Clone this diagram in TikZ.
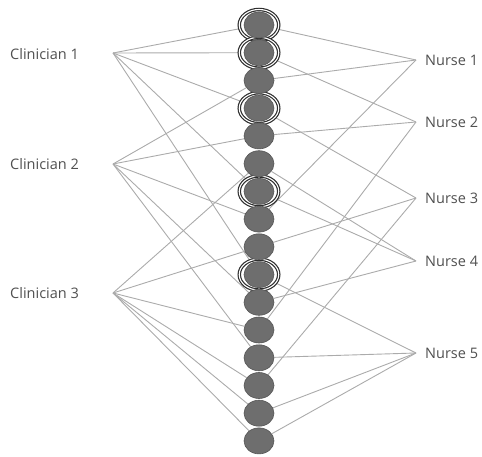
\documentclass[tikz,border=0pt]{standalone}
\usepackage{fontspec}
\setmainfont{Open Sans}
\usetikzlibrary{shapes.geometric,backgrounds}
\definecolor{dotfill}{HTML}{6E6E6E}
\definecolor{dotline}{HTML}{555555}
\definecolor{ringline}{HTML}{2E2E2E}
\definecolor{edgecol}{HTML}{ABABAB}
\definecolor{txtcol}{HTML}{505050}
\begin{document}
\begin{tikzpicture}[x=1pt,y=-1pt,
  dot/.style={ellipse,minimum width=30pt,minimum height=26pt,inner sep=0pt,fill=dotfill,draw=dotline,line width=0.6pt},
  ringc/.style={ellipse,minimum width=39.5pt,minimum height=31pt,inner sep=0pt,draw=ringline,double=white,line width=1.2pt,double distance=1.1pt},
  lab/.style={anchor=west,inner sep=0pt,text=txtcol,font=\fontsize{14.5}{17}\selectfont},
  edge/.style={draw=edgecol,line width=0.9pt}]
\useasboundingbox (0,0) rectangle (482,457);
% rings (circles tied to Clinician 1)
\node[ringc] (t1) at (259,25.0) {};
\node[ringc] (t2) at (259,52.7) {};
\node[ringc] (t4) at (259,108.2) {};
\node[ringc] (t7) at (259,191.4) {};
\node[ringc] (t10) at (259,274.6) {};
% dots
\node[dot] (c1) at (259,25.0) {};
\node[dot] (c2) at (259,52.7) {};
\node[dot,alias=t3] (c3) at (259,80.5) {};
\node[dot] (c4) at (259,108.2) {};
\node[dot,alias=t5] (c5) at (259,135.9) {};
\node[dot,alias=t6] (c6) at (259,163.7) {};
\node[dot] (c7) at (259,191.4) {};
\node[dot,alias=t8] (c8) at (259,219.1) {};
\node[dot,alias=t9] (c9) at (259,246.8) {};
\node[dot] (c10) at (259,274.6) {};
\node[dot,alias=t11] (c11) at (259,302.3) {};
\node[dot,alias=t12] (c12) at (259,330.0) {};
\node[dot,alias=t13] (c13) at (259,357.8) {};
\node[dot,alias=t14] (c14) at (259,385.5) {};
\node[dot,alias=t15] (c15) at (259,413.2) {};
\node[dot,alias=t16] (c16) at (259,440.9) {};
% labels
\node[lab] (cl1) at (10,54) {Clinician 1};
\node[lab] (cl2) at (10,164) {Clinician 2};
\node[lab] (cl3) at (10,293) {Clinician 3};
\node[lab] (nu1) at (425,60) {Nurse 1};
\node[lab] (nu2) at (425,122) {Nurse 2};
\node[lab] (nu3) at (425,198) {Nurse 3};
\node[lab] (nu4) at (425,261) {Nurse 4};
\node[lab] (nu5) at (425,353) {Nurse 5};
% convergence points
\coordinate (a1) at (113,53);
\coordinate (a2) at (113,164);
\coordinate (a3) at (113,293);
\coordinate (b1) at (416,60);
\coordinate (b2) at (416,122);
\coordinate (b3) at (416,198);
\coordinate (b4) at (416,261);
\coordinate (b5) at (416,353);
\begin{scope}[on background layer]
\foreach \k in {1,2,4,7,10} \draw[edge] (a1) -- (t\k);
\foreach \k in {3,5,8,11,13} \draw[edge] (a2) -- (t\k);
\foreach \k in {6,9,12,14,15,16} \draw[edge] (a3) -- (t\k);
\foreach \k in {1,3,8} \draw[edge] (b1) -- (t\k);
\foreach \k in {2,5,12} \draw[edge] (b2) -- (t\k);
\foreach \k in {4,9,14} \draw[edge] (b3) -- (t\k);
\foreach \k in {6,7,11} \draw[edge] (b4) -- (t\k);
\foreach \k in {10,13,15,16} \draw[edge] (b5) -- (t\k);
\end{scope}
\end{tikzpicture}
\end{document}
